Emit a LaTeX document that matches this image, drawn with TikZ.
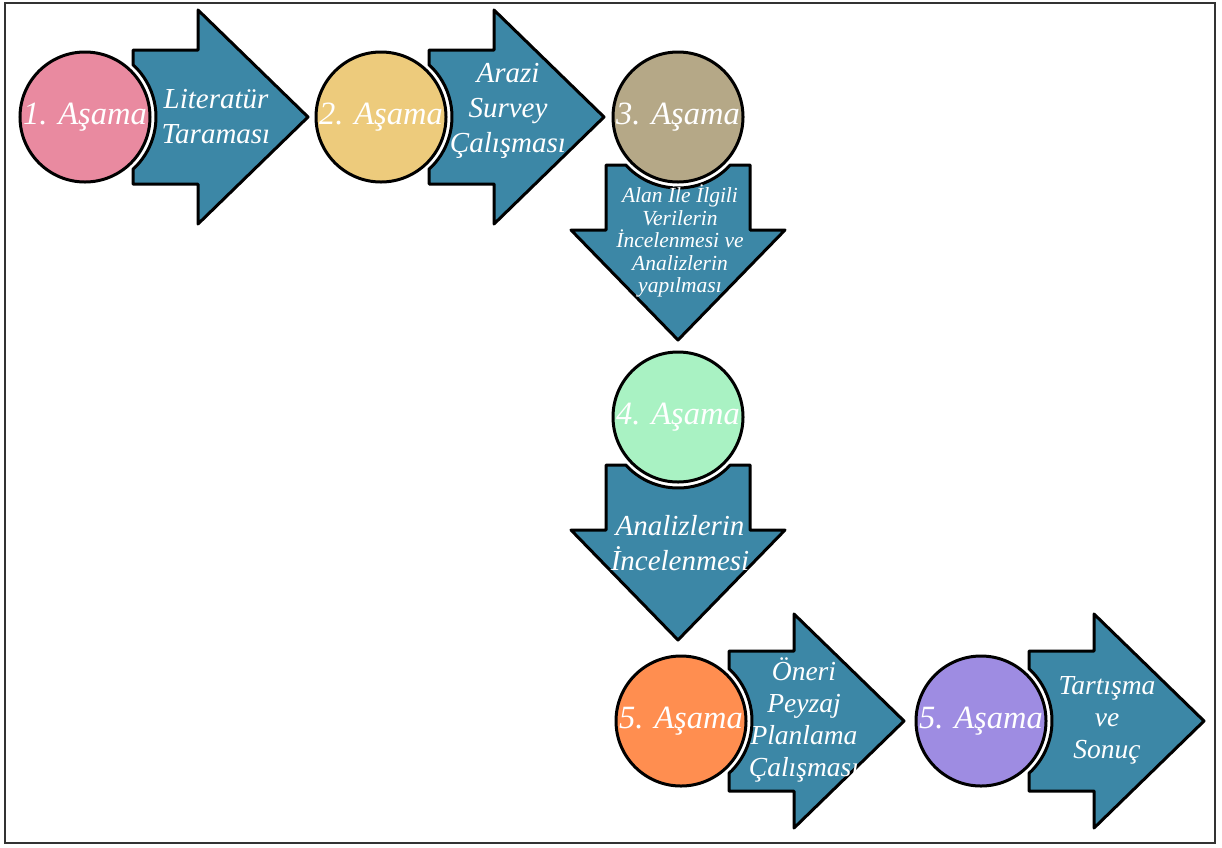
\documentclass[tikz,border=0pt]{standalone}
\usepackage{fontspec}
\setmainfont{Liberation Serif}
\definecolor{arrowblue}{HTML}{3C87A6}
\definecolor{cpink}{HTML}{E98AA0}
\definecolor{cyellow}{HTML}{EDCB7C}
\definecolor{ctan}{HTML}{B5A887}
\definecolor{cmint}{HTML}{A9F2C3}
\definecolor{corange}{HTML}{FF8E50}
\definecolor{cpurple}{HTML}{9E8CE2}
\newcommand\StageArrow[4]{%
  \begin{scope}[shift={(#1,#2)},rotate=#3]
    \draw[arrowbody] (48,#4) -- (113,#4) -- (113,107) -- (223,0) -- (113,-107)
      -- (113,-#4) -- (48,-#4) -- (48,-52.3)
      arc[start angle=-47.46,end angle=47.46,radius=71] -- cycle;
  \end{scope}}
\begin{document}
\begin{tikzpicture}[x=1pt,y=1pt,
  stage/.style={circle, draw=black, line width=3pt, minimum size=130pt, inner sep=0pt,
    text=white, font=\itshape\fontsize{32.5}{38}\selectfont},
  arrowbody/.style={fill=arrowblue, draw=black, line width=3pt, line join=round},
  arrowtext/.style={text=white, align=center, inner sep=0pt,
    font=\itshape\fontsize{29}{35}\selectfont}]
\useasboundingbox (0,0) rectangle (1222,-847);
\draw[line width=2pt, draw=black!80] (5,-3) rectangle (1215,-843);
% arrows
\StageArrow{85}{-117}{0}{67}
\StageArrow{381}{-117}{0}{67}
\StageArrow{678}{-117}{-90}{72}
\StageArrow{678}{-417}{-90}{72}
\StageArrow{681}{-721}{0}{70}
\StageArrow{981}{-721}{0}{70}
% circles
\node[stage, fill=cpink]   (c1) at (85,-117)  {1. Aşama};
\node[stage, fill=cyellow] (c2) at (381,-117) {2. Aşama};
\node[stage, fill=ctan]    (c3) at (678,-117) {3. Aşama};
\node[stage, fill=cmint]   (c4) at (678,-417) {4. Aşama};
\node[stage, fill=corange] (c5) at (681,-721) {5. Aşama};
\node[stage, fill=cpurple] (c6) at (981,-721) {5. Aşama};
% arrow texts
\node[arrowtext] (t1) at (216,-117) {Literatür\\Taraması};
\node[arrowtext] (t2) at (508,-111) {Arazi\\Survey\\Çalışması};
\node[arrowtext, font=\itshape\fontsize{21.5}{22.5}\selectfont] (t3) at (680,-241)
  {Alan İle İlgili\\Verilerin\\İncelenmesi ve\\Analizlerin\\yapılması};
\node[arrowtext] (t4) at (680,-543) {Analizlerin\\İncelenmesi};
\node[arrowtext, font=\itshape\fontsize{27.5}{32}\selectfont] (t5) at (804,-720)
  {Öneri\\Peyzaj\\Planlama\\Çalışması};
\node[arrowtext, font=\itshape\fontsize{27.5}{32}\selectfont] (t6) at (1107,-720)
  {Tartışma\\ve\\Sonuç};
\end{tikzpicture}
\end{document}
